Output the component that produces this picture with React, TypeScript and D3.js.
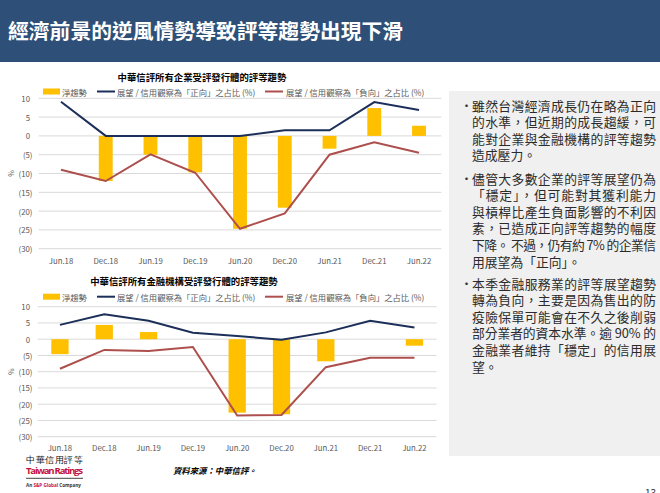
import React from 'react';
import * as d3 from 'd3';

const categories = ['Jun.18', 'Dec.18', 'Jun.19', 'Dec.19', 'Jun.20', 'Dec.20', 'Jun.21', 'Dec.21', 'Jun.22'];
const yTicks = [10, 5, 0, -5, -10, -15, -20, -25, -30];

const corpNet = [0, -12, -5, -9.7, -24.7, -19.1, -3.4, 7.4, 2.7];
const corpPositive = [9.1, 0, 0, 0, 0, 1.5, 1.5, 9.0, 6.9];
const corpNegative = [-9.0, -12, -4.9, -9.8, -24.7, -20.6, -5.0, -1.7, -4.5];

const finNet = [-4.6, 4.4, 2.2, 0, -22.6, -23.1, -6.8, 0, -2.0];
const finPositive = [4.4, 7.7, 5.7, 2.0, 1.0, -0.2, 2.1, 5.7, 3.6];
const finNegative = [-9.1, -3.3, -3.6, -2.4, -23.5, -23.3, -8.6, -5.7, -5.7];

const legendLabels = ['淨趨勢', '展望 / 信用觀察為「正向」之占比 (%)', '展望 / 信用觀察為「負向」之占比 (%)'];
const pageTitle = '經濟前景的逆風情勢導致評等趨勢出現下滑';
const chartTitles = ['中華信評所有企業受評發行體的評等趨勢', '中華信評所有金融機構受評發行體的評等趨勢'];

const paragraphs = [
  ['雖然台灣經濟成長仍在略為正向', '的水準，但近期的成長趨緩，可', '能對企業與金融機構的評等趨勢', '造成壓力。'],
  ['儘管大多數企業的評等展望仍為', '「穩定」，但可能對其獲利能力', '與槓桿比產生負面影響的不利因', '素，已造成正向評等趨勢的幅度', '下降。 不過，仍有約 7% 的企業信', '用展望為「正向」。'],
  ['本季金融服務業的評等展望趨勢', '轉為負向，主要是因為售出的防', '疫險保單可能會在不久之後削弱', '部分業者的資本水準。逾 90% 的', '金融業者維持「穩定」的信用展', '望。'],
];

const FONT = '"Noto Sans CJK TC", "Noto Sans", sans-serif';
const YELLOW = '#ffc000';
const NAVY = '#1b2f5a';
const RED = '#ad4f4c';
const GRID = '#d9d9d9';
const LABEL = '#595959';

const fmt = (v: number) => (v < 0 ? `(${Math.abs(v)})` : `${v}`);

type ChartProps = {
  title: string;
  titleX: number;
  titleY: number;
  legendY: number;
  x0: number;
  x1: number;
  yTop: number;
  yBottom: number;
  labelY: number;
  barRatio: number;
  net: number[];
  pos: number[];
  neg: number[];
};

function Chart(p: ChartProps) {
  const x = d3.scaleBand<string>().domain(categories).range([p.x0, p.x1]).padding(0);
  const y = d3.scaleLinear().domain([-30, 10]).range([p.yBottom, p.yTop]);
  const bw = x.bandwidth() * p.barRatio;
  const cx = (c: string) => (x(c) as number) + x.bandwidth() / 2;
  const line = d3
    .line<number>()
    .x((_, i) => cx(categories[i]))
    .y((d) => y(d));
  return (
    <g>
      <text x={p.titleX} y={p.titleY} textAnchor="middle" dominantBaseline="central" fontSize={9.4} fontWeight="bold" fill="#000" fontFamily={FONT}>
        {p.title}
      </text>
      <rect x={43} y={p.legendY - 3} width={17} height={6} fill={YELLOW} />
      <text x={62} y={p.legendY} dominantBaseline="central" fontSize={8.3} fill={LABEL} fontFamily={FONT}>{legendLabels[0]}</text>
      <line x1={97} x2={115} y1={p.legendY} y2={p.legendY} stroke={NAVY} strokeWidth={2} />
      <text x={117} y={p.legendY} dominantBaseline="central" fontSize={8.3} fill={LABEL} fontFamily={FONT}>{legendLabels[1]}</text>
      <line x1={265} x2={283} y1={p.legendY} y2={p.legendY} stroke={RED} strokeWidth={2} />
      <text x={286} y={p.legendY} dominantBaseline="central" fontSize={8.3} fill={LABEL} fontFamily={FONT}>{legendLabels[2]}</text>
      {yTicks.map((t) => (
        <g key={t}>
          <line x1={p.x0} x2={p.x1} y1={y(t)} y2={y(t)} stroke={GRID} strokeWidth={1} />
          <text x={t < 0 ? 32.5 : 30} y={y(t)} textAnchor="end" dominantBaseline="central" fontSize={7.8} fill={LABEL} fontFamily={FONT}>
            {fmt(t)}
          </text>
        </g>
      ))}
      <text x={11} y={y(-10)} textAnchor="middle" dominantBaseline="central" fontSize={7} fill={LABEL} fontFamily={FONT} transform={`rotate(-90 11 ${y(-10)})`}>
        %
      </text>
      {p.net.map((v, i) => (
        <rect key={i} x={cx(categories[i]) - bw / 2} y={y(Math.max(0, v))} width={bw} height={Math.abs(y(v) - y(0))} fill={YELLOW} />
      ))}
      <path d={line(p.pos) || ''} fill="none" stroke={NAVY} strokeWidth={2} />
      <path d={line(p.neg) || ''} fill="none" stroke={RED} strokeWidth={2} />
      {categories.map((c) => (
        <text key={c} x={cx(c)} y={p.labelY} textAnchor="middle" dominantBaseline="central" fontSize={7.8} fill={LABEL} fontFamily={FONT}>
          {c}
        </text>
      ))}
    </g>
  );
}

export default function App() {
  const paraStarts = [105, 178, 283];
  const lh = 16.6;
  return (
    <svg width={660} height={493} style={{ position: 'absolute', left: 0, top: 0, background: '#fff' }} fontFamily={FONT}>
      <rect x={0} y={0} width={660} height={493} fill="#fff" />
      <rect x={0} y={0} width={660} height={62} fill="#2e5078" />
      <text x={8} y={30} dominantBaseline="central" fontSize={20.8} fontWeight="bold" fill="#fff" fontFamily={FONT}>
        {pageTitle}
      </text>
      <rect x={449} y={91} width={211} height={365} fill="#f0f0f0" />
      {paragraphs.map((lines, pi) => (
        <g key={pi}>
          <text x={466.5} y={paraStarts[pi]} textAnchor="middle" dominantBaseline="central" fontSize={12} fill="#333">•</text>
          {lines.map((l, li) => (
            <text
              key={li}
              x={472}
              y={paraStarts[pi] + li * lh}
              dominantBaseline="central"
              fontSize={12.8}
              fill="#2b2b2b"
              fontFamily={FONT}
              {...(li < lines.length - 1 ? { textLength: 184, lengthAdjust: 'spacing' } : {})}
            >
              {l}
            </text>
          ))}
        </g>
      ))}
      <Chart
        title={chartTitles[0]}
        titleX={202}
        titleY={77}
        legendY={91.5}
        x0={38.6}
        x1={441.4}
        yTop={98.3}
        yBottom={248.7}
        labelY={260}
        barRatio={0.31}
        net={corpNet}
        pos={corpPositive}
        neg={corpNegative}
      />
      <Chart
        title={chartTitles[1]}
        titleX={184}
        titleY={281}
        legendY={296.7}
        x0={37.8}
        x1={436.6}
        yTop={306.7}
        yBottom={436.7}
        labelY={447}
        barRatio={0.39}
        net={finNet}
        pos={finPositive}
        neg={finNegative}
      />
      <text x={26} y={460} dominantBaseline="central" fontSize={8.5} fill="#111" fontFamily='"DejaVu Serif", serif' textLength={57}>中華信用評等</text>
      <text x={26} y={470.5} dominantBaseline="central" fontSize={9.6} fontWeight="bold" fill="#c4123e" fontFamily='"Open Sans", sans-serif' textLength={57}>Taiwan Ratings</text>
      <line x1={26} x2={83} y1={478.3} y2={478.3} stroke="#444" strokeWidth={1} />
      <text x={26} y={484.5} dominantBaseline="central" fontSize={4.6} fontWeight="bold" fill="#333" fontFamily='"Open Sans", sans-serif'>
        An <tspan fill="#c4123e">S&amp;P Global</tspan> Company
      </text>
      <text x={173} y={470} dominantBaseline="central" fontSize={8.4} fontWeight="bold" fontStyle="italic" fill="#000" fontFamily={FONT}>
        資料來源：中華信評。
      </text>
      <text x={645} y={497} fontSize={10} fill="#333" fontFamily={FONT}>13</text>
    </svg>
  );
}
